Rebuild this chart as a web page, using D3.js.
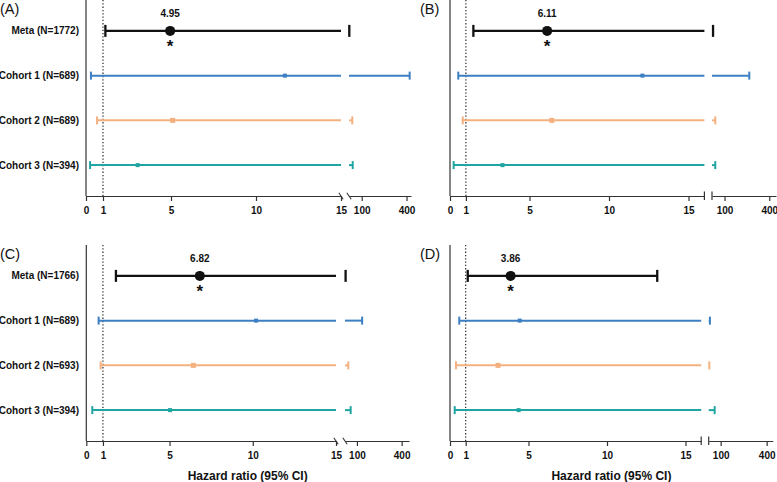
<!DOCTYPE html>
<html>
<head>
<meta charset="utf-8">
<script src="https://cdn.jsdelivr.net/npm/d3@7"></script>
<style>
  html, body { margin: 0; padding: 0; background: #fff; }
  svg { display: block; }
  text { font-family: "Liberation Sans", Arial, sans-serif; }
</style>
</head>
<body>
<svg id="chart" width="777" height="482"></svg>
<script>
// ---------------- DATA ----------------
const panelIds = ["(A)", "(B)", "(C)", "(D)"];
const rowLabelsAB = ["Meta (N=1772)", "Cohort 1 (N=689)", "Cohort 2 (N=689)", "Cohort 3 (N=394)"];
const rowLabelsCD = ["Meta (N=1766)", "Cohort 1 (N=689)", "Cohort 2 (N=693)", "Cohort 3 (N=394)"];
const seriesKeys = ["Meta", "Cohort 1", "Cohort 2", "Cohort 3"];

const hrA = [4.95, 11.7, 5.1, 3.04];
const loA = [1.14, 0.29, 0.65, 0.24];
const hiA = [17, 421, 37, 40];

const hrB = [6.11, 12.1, 6.4, 3.3];
const loB = [1.47, 0.52, 0.8, 0.23];
const hiB = [23, 266, 38, 38];

const hrC = [6.82, 10.2, 6.43, 5.03];
const loC = [1.78, 0.74, 0.86, 0.36];
const hiC = [24, 135, 42, 58];

const hrD = [3.86, 4.44, 3.06, 4.37];
const loD = [1.13, 0.59, 0.38, 0.30];
const hiD = [13.2, 30, 26, 61];

const metaLabels = ["4.95", "6.11", "6.82", "3.86"];
const ticksLow = [0, 1, 5, 10, 15];
const ticksHigh = [100, 400];
const axisTitle = "Hazard ratio (95% CI)";

// ---------------- STYLE / LAYOUT ----------------
const colors = {"Meta": "#111111", "Cohort 1": "#3d7fc3", "Cohort 2": "#f5b080", "Cohort 3": "#1fa5a2"};

const panels = [
  {id: panelIds[0], labels: rowLabelsAB, hr: hrA, lo: loA, hi: hiA, meta: metaLabels[0],
   top: 0, bottom: 196, labelX: 0, d1: [0, 15], r1: [86, 341], d2: [15, 430], r2: [349, 411], brk: "slash", title: false},
  {id: panelIds[1], labels: null, hr: hrB, lo: loB, hi: hiB, meta: metaLabels[1],
   top: 0, bottom: 196, labelX: 420, d1: [0, 16], r1: [450, 704.4], d2: [16, 445], r2: [712, 776], brk: "tick", title: false},
  {id: panelIds[2], labels: rowLabelsCD, hr: hrC, lo: loC, hi: hiC, meta: metaLabels[2],
   top: 245, bottom: 441, labelX: 0, d1: [0, 15], r1: [86.3, 336], d2: [20, 450], r2: [345, 409.1], brk: "slash", title: true},
  {id: panelIds[3], labels: null, hr: hrD, lo: loD, hi: hiD, meta: metaLabels[3],
   top: 245, bottom: 441, labelX: 420, d1: [0, 16], r1: [450, 701.2], d2: [22, 440], r2: [708.7, 772.8], brk: "tick", title: true}
];

const svg = d3.select("#chart");

panels.forEach(p => {
  const g = svg.append("g");
  const x1 = d3.scaleLinear().domain(p.d1).range(p.r1);
  const x2 = d3.scaleLinear().domain(p.d2).range(p.r2);
  const xv = v => v <= p.d1[1] ? x1(v) : x2(Math.max(v, p.d2[0]));
  const y = d3.scalePoint().domain(seriesKeys).range([p.top, p.bottom]).padding(0.69);
  const axisX = p.r1[0];

  // panel label
  g.append("text").attr("x", p.labelX).attr("y", p.top + 13.5)
    .attr("font-size", 14.5).attr("fill", "#111").text(p.id);

  // y axis line
  g.append("line").attr("x1", axisX).attr("x2", axisX)
    .attr("y1", p.top).attr("y2", p.bottom)
    .attr("stroke", "#333").attr("stroke-width", 1.2);

  // reference dotted line at HR = 1
  g.append("line").attr("x1", x1(1)).attr("x2", x1(1))
    .attr("y1", p.top).attr("y2", p.bottom)
    .attr("stroke", "#111").attr("stroke-width", 1.1).attr("stroke-dasharray", "1.3,2");

  // row labels
  if (p.labels) {
    g.selectAll("text.rowlab").data(seriesKeys).enter().append("text")
      .attr("class", "rowlab")
      .attr("x", 79).attr("y", d => y(d))
      .attr("dy", "0.35em")
      .attr("text-anchor", "end")
      .attr("font-size", 10).attr("font-weight", "bold").attr("fill", "#111")
      .text((d, i) => p.labels[i]);
  }

  // x axis segments
  const axG1 = g.append("g").attr("transform", `translate(0,${p.bottom})`)
    .call(d3.axisBottom(x1).tickValues(ticksLow).tickFormat(d3.format("d")).tickSize(5).tickSizeOuter(0).tickPadding(6));
  const axG2 = g.append("g").attr("transform", `translate(0,${p.bottom})`)
    .call(d3.axisBottom(x2).tickValues(ticksHigh).tickFormat(d3.format("d")).tickSize(5).tickSizeOuter(0).tickPadding(6));
  [axG1, axG2].forEach(a => {
    a.selectAll("path.domain").attr("stroke", "#333").attr("stroke-width", 1.2);
    a.selectAll(".tick line").attr("stroke", "#333").attr("stroke-width", 1.2);
    a.selectAll(".tick text").attr("font-size", 10).attr("font-weight", "bold")
      .attr("fill", "#111").attr("font-family", "'Liberation Sans', Arial, sans-serif");
  });

  // break markers
  if (p.brk === "slash") {
    [p.r1[1], p.r2[0]].forEach(bx => {
      g.append("line").attr("x1", bx - 2.2).attr("x2", bx + 2.2)
        .attr("y1", p.bottom - 3.2).attr("y2", p.bottom + 3.2)
        .attr("stroke", "#333").attr("stroke-width", 1.1);
    });
  } else {
    [p.r1[1], p.r2[0]].forEach(bx => {
      g.append("line").attr("x1", bx).attr("x2", bx)
        .attr("y1", p.bottom - 4.5).attr("y2", p.bottom + 4)
        .attr("stroke", "#333").attr("stroke-width", 1.2);
    });
  }

  // error bars
  seriesKeys.forEach((k, i) => {
    const isMeta = i === 0;
    const col = colors[k];
    const lw = isMeta ? 2.3 : 2;
    const capH = isMeta ? 6 : 4;
    const yy = y(k);
    const lo = p.lo[i], hi = p.hi[i], hr = p.hr[i];
    g.append("line").attr("x1", x1(lo)).attr("x2", x1(Math.min(hi, p.d1[1])))
      .attr("y1", yy).attr("y2", yy).attr("stroke", col).attr("stroke-width", lw);
    if (hi > p.d1[1]) {
      g.append("line").attr("x1", x2(Math.max(lo, p.d2[0]))).attr("x2", xv(hi))
        .attr("y1", yy).attr("y2", yy).attr("stroke", col).attr("stroke-width", lw);
    }
    [lo, hi].forEach(v => {
      g.append("line").attr("x1", xv(v)).attr("x2", xv(v))
        .attr("y1", yy - capH).attr("y2", yy + capH)
        .attr("stroke", col).attr("stroke-width", lw);
    });
    if (isMeta) {
      g.append("circle").attr("cx", xv(hr)).attr("cy", yy).attr("r", 5).attr("fill", col);
      g.append("text").attr("x", xv(hr)).attr("y", yy - 13.5)
        .attr("text-anchor", "middle").attr("font-size", 10).attr("font-weight", "bold")
        .attr("fill", "#111").text(p.meta);
      g.append("text").attr("x", xv(hr)).attr("y", yy + 21)
        .attr("text-anchor", "middle").attr("font-size", 17).attr("font-weight", "bold")
        .attr("fill", "#111").text("*");
    } else {
      const s = i === 2 ? 5 : 4;
      g.append("rect").attr("x", xv(hr) - s / 2).attr("y", yy - s / 2)
        .attr("width", s).attr("height", s).attr("fill", col);
    }
  });

  if (p.title) {
    g.append("text").attr("x", (p.r1[0] + p.r2[1]) / 2).attr("y", p.bottom + 39)
      .attr("text-anchor", "middle").attr("font-size", 12).attr("font-weight", "bold")
      .attr("fill", "#111").text(axisTitle);
  }
});
</script>
</body>
</html>
